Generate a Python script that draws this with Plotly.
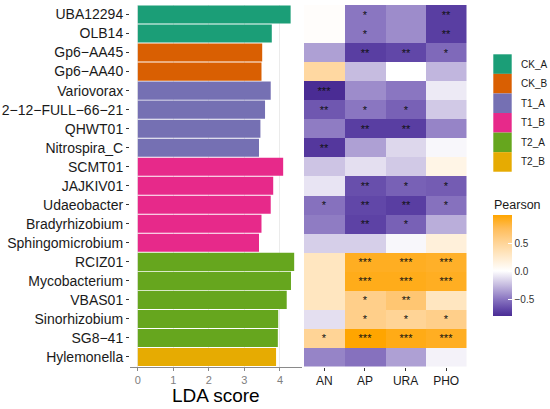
import plotly.graph_objects as go

# ---------------- data ----------------
taxa = ["UBA12294", "OLB14", "Gp6−AA45", "Gp6−AA40", "Variovorax", "2−12−FULL−66−21",
        "QHWT01", "Nitrospira_C", "SCMT01", "JAJKIV01", "Udaeobacter", "Bradyrhizobium",
        "Sphingomicrobium", "RCIZ01", "Mycobacterium", "VBAS01", "Sinorhizobium",
        "SG8−41", "Hylemonella"]
groups = ["CK_A", "CK_A", "CK_B", "CK_B", "T1_A", "T1_A", "T1_A", "T1_A",
          "T1_B", "T1_B", "T1_B", "T1_B", "T1_B",
          "T2_A", "T2_A", "T2_A", "T2_A", "T2_A", "T2_B"]
lda = [4.30, 3.77, 3.50, 3.48, 3.74, 3.58, 3.45, 3.41, 4.09, 3.81, 3.74, 3.48, 3.41,
       4.40, 4.31, 4.19, 3.95, 3.94, 3.89]

group_names = ["CK_A", "CK_B", "T1_A", "T1_B", "T2_A", "T2_B"]
group_colors = ["#1B9E77", "#D95F02", "#7570B3", "#E7298A", "#66A61E", "#E6AB02"]

env_vars = ["AN", "AP", "URA", "PHO"]
pearson = [
    [0.02, -0.50, -0.42, -0.72],
    [0.02, -0.50, -0.42, -0.72],
    [-0.35, -0.72, -0.68, -0.55],
    [0.45, -0.25, 0.00, -0.27],
    [-0.80, -0.42, -0.50, -0.08],
    [-0.62, -0.50, -0.58, -0.20],
    [-0.48, -0.72, -0.72, -0.45],
    [-0.75, -0.35, -0.15, -0.03],
    [-0.22, -0.12, -0.20, 0.12],
    [-0.10, -0.65, -0.58, -0.60],
    [-0.52, -0.68, -0.72, -0.52],
    [-0.48, -0.70, -0.58, -0.30],
    [-0.18, -0.18, -0.03, 0.18],
    [0.30, 0.90, 0.90, 0.88],
    [0.30, 0.92, 0.92, 0.90],
    [0.30, 0.55, 0.65, 0.30],
    [-0.12, 0.55, 0.50, 0.55],
    [0.50, 0.99, 0.93, 0.90],
    [-0.45, -0.52, -0.35, -0.05],
]
stars = [
    ["", "*", "", "**"],
    ["", "*", "", "**"],
    ["", "**", "**", "*"],
    ["", "", "", ""],
    ["***", "", "", ""],
    ["**", "*", "*", ""],
    ["", "**", "**", ""],
    ["**", "", "", ""],
    ["", "", "", ""],
    ["", "**", "*", "*"],
    ["*", "**", "**", "*"],
    ["", "**", "*", ""],
    ["", "", "", ""],
    ["", "***", "***", "***"],
    ["", "***", "***", "***"],
    ["", "*", "**", ""],
    ["", "*", "*", "*"],
    ["*", "***", "***", "***"],
    ["", "", "", ""],
]
cbar_ticks = [-0.5, 0.0, 0.5]

# ---------------- colour scale ----------------
zmin = min(min(r) for r in pearson)
zmax = max(max(r) for r in pearson)
stops = [(-0.81, "#4a2c94"), (-0.7, "#5d42a5"), (-0.5, "#8a76c1"), (-0.25, "#c6bce0"),
         (0.0, "#ffffff"), (0.25, "#ffeacb"), (0.5, "#ffd496"), (0.75, "#ffbd5a"),
         (0.99, "#ffa500")]
colorscale = [[max(0, min(1, (v - zmin) / (zmax - zmin))), c] for v, c in stops]
colorscale[0][0] = 0.0
colorscale[-1][0] = 1.0

cmap = dict(zip(group_names, group_colors))
W, H = 550, 409
def px(x): return x / W
def py(y): return 1 - y / H

FONT = "Liberation Sans, Arial, Helvetica, sans-serif"
fig = go.Figure()

fig.add_trace(go.Bar(
    x=lda, y=taxa, orientation="h", width=0.95,
    marker=dict(color=[cmap[g] for g in groups], line=dict(width=0)),
    xaxis="x", yaxis="y", showlegend=False, hoverinfo="x+y"))

fig.add_trace(go.Heatmap(
    z=pearson, x=env_vars, y=taxa, text=stars, texttemplate="%{text}",
    textfont=dict(size=11, color="#111111", family=FONT),
    colorscale=colorscale, zmin=zmin, zmax=zmax, xaxis="x2", yaxis="y2",
    colorbar=dict(x=px(493), xanchor="left", xpad=0, y=py(266), yanchor="middle", ypad=0,
                  thickness=19, thicknessmode="pixels", len=101, lenmode="pixels",
                  outlinewidth=0, tickvals=cbar_ticks, tickformat=".1f",
                  ticks="inside", ticklen=4, tickcolor="white",
                  tickfont=dict(size=10, color="#333333", family=FONT))))

y_dom = [py(366.5), py(5)]
fig.update_layout(
    width=W, height=H, margin=dict(l=0, r=0, t=0, b=0),
    paper_bgcolor="white", plot_bgcolor="white",
    font=dict(family=FONT),
    xaxis=dict(domain=[px(130), px(302)], range=[-0.22, 4.62], tickvals=[0, 1, 2, 3, 4],
               showgrid=True, gridcolor="#ebebeb", gridwidth=1, zeroline=False,
               showline=True, linecolor="#8a8a8a", linewidth=1,
               ticks="outside", ticklen=3, tickcolor="#8a8a8a",
               tickfont=dict(size=11, color="#808080"), automargin=False),
    yaxis=dict(domain=y_dom, categoryorder="array", categoryarray=taxa,
               range=[len(taxa) - 0.5, -0.5], showgrid=False, zeroline=False,
               ticks="outside", ticklen=3, tickcolor="#333333",
               tickfont=dict(size=14, color="#1a1a1a"), automargin=False),
    xaxis2=dict(domain=[px(304), px(466.5)], anchor="y2", showgrid=False, zeroline=False,
                ticks="outside", ticklen=3, tickcolor="#333333",
                tickfont=dict(size=12, color="#1a1a1a"), automargin=False),
    yaxis2=dict(domain=y_dom, anchor="x2", categoryorder="array", categoryarray=taxa,
                range=[len(taxa) - 0.5, -0.5], showticklabels=False, showgrid=False,
                zeroline=False, ticks="", automargin=False),
)

annotations = [
    dict(text="LDA score", x=px(216), y=py(395), xref="paper", yref="paper",
         showarrow=False, font=dict(size=19, color="#000000"), xanchor="center", yanchor="middle"),
    dict(text="Pearson", x=px(492), y=py(205), xref="paper", yref="paper",
         showarrow=False, font=dict(size=12.5, color="#1a1a1a"), xanchor="left", yanchor="middle"),
]
shapes = []
key_top, key_h = 54.3, 19.57
for i, (g, c) in enumerate(zip(group_names, group_colors)):
    y0 = key_top + i * key_h
    shapes.append(dict(type="rect", xref="paper", yref="paper",
                       x0=px(493.3), x1=px(511.7), y0=py(y0 + key_h), y1=py(y0),
                       fillcolor=c, line=dict(width=0)))
    annotations.append(dict(text=g, x=px(518.5), y=py(y0 + key_h / 2), xref="paper", yref="paper",
                            showarrow=False, font=dict(size=10, color="#1a1a1a"),
                            xanchor="left", yanchor="middle"))
fig.update_layout(annotations=annotations, shapes=shapes)

fig.write_html("out.html", config={"displayModeBar": False},
               post_script="document.body.style.margin='0';document.body.style.overflow='hidden';")
